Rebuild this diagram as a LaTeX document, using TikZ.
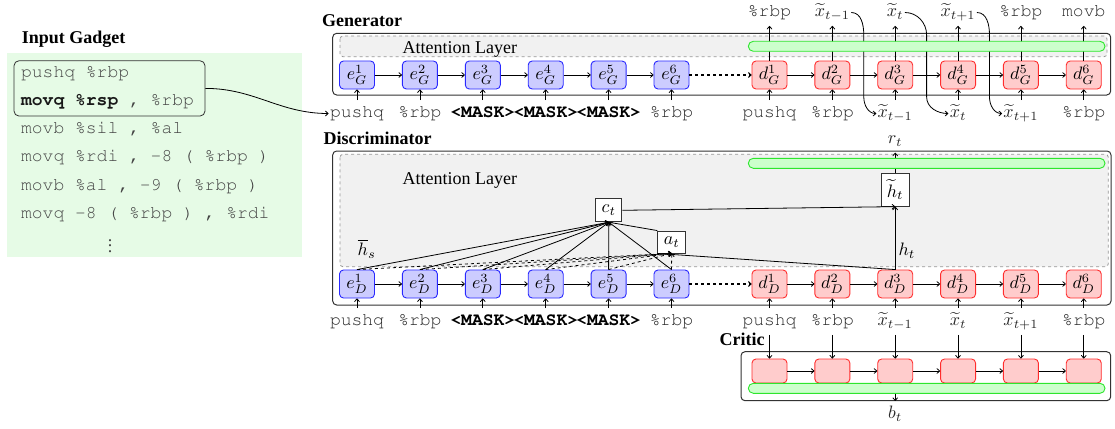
\documentclass[tikz,border=0pt]{standalone}
\usepackage{graphicx}
\usepackage[T1]{fontenc}
\usepackage[no-math]{fontspec}
\setmainfont{Liberation Serif}
\setmonofont{Liberation Mono}
\usetikzlibrary{calc,arrows.meta}

% math set at 10pt and enlarged to match the 18pt text
\newcommand\mth[1]{\scalebox{1.8}{\fontsize{10}{12}\selectfont$#1$}}
% Courier for the assembly tokens
\newcommand\crfont{\fontencoding{T1}\fontfamily{pcr}\fontsize{18}{21.6}\selectfont}

\definecolor{encfill}{RGB}{204,204,255}
\definecolor{encline}{RGB}{40,40,255}
\definecolor{decfill}{RGB}{255,204,204}
\definecolor{decline}{RGB}{255,45,45}
\definecolor{barfill}{RGB}{204,255,204}
\definecolor{barline}{RGB}{45,230,45}
\definecolor{attfill}{RGB}{241,241,241}
\definecolor{attline}{RGB}{150,150,150}
\definecolor{panelfill}{RGB}{230,251,230}
\definecolor{codegray}{RGB}{68,68,68}
\definecolor{tokgray}{RGB}{40,40,40}

\tikzset{
  enc/.style={draw=encline, fill=encfill, rounded corners=4pt, minimum width=35pt,
    minimum height=28pt, inner sep=0pt, line width=0.9pt},
  dec/.style={enc, draw=decline, fill=decfill},
  crit/.style={dec, minimum height=24pt},
  tok/.style={anchor=base, inner xsep=1pt, inner ysep=5pt, text height=12pt,
    text depth=4pt, text=tokgray, font=\crfont},
  mask/.style={tok, inner xsep=0pt, text=black, font=\crfont\bfseries},
  code/.style={anchor=base west, inner sep=0pt, text=codegray, font=\crfont},
  title/.style={anchor=base west, inner sep=0pt,
    font=\fontsize{18}{21.6}\selectfont\bfseries},
  attlabel/.style={anchor=base west, inner sep=0pt},
  gbar/.style={draw=barline, fill=barfill, rounded corners=5pt, line width=0.9pt,
    inner sep=0pt, minimum height=10pt, minimum width=356.7pt},
  att/.style={draw=attline, fill=attfill, dashed, rounded corners=3pt, line width=0.8pt},
  frame/.style={draw=black!80, rounded corners=4pt, line width=1pt},
  vec/.style={draw=black!80, fill=white, inner sep=0pt, line width=0.9pt},
}

\begin{document}
\begin{tikzpicture}[x=1pt, y=-1pt, line width=0.8pt,
  >={To[length=3.5pt,width=5.5pt]},
  every node/.append style={font=\fontsize{18}{21.6}\selectfont}]
\useasboundingbox (0,0) rectangle (1115,428);

% ---------------- input gadget ----------------
\fill[panelfill] (6.7,53.3) rectangle (301.7,256.7);
\node[title] (gadget) at (21.5,43.3) {Input Gadget};
\node[code] (c1) at (20.7,77.3) {pushq \%rbp};
\node[code] (c2) at (20.7,105.5) {\textcolor{black!90}{\bfseries movq \%rsp} , \%rbp};
\node[code] (c3) at (20.7,133.7) {movb \%sil , \%al};
\node[code] (c4) at (20.7,161.9) {movq \%rdi , -8 ( \%rbp )};
\node[code] (c5) at (20.7,190.1) {movb \%al , -9 ( \%rbp )};
\node[code] (c6) at (20.7,218.3) {movq -8 ( \%rbp ) , \%rdi};
\node[inner sep=0pt, text=codegray] (c7) at (110,246)
  {\vbox{\baselineskip=5.6pt\lineskiplimit=0pt\hbox{.}\hbox{.}\hbox{.}}};
\node[draw=black!80, rounded corners=5pt, minimum width=191pt, minimum height=55.3pt,
  inner sep=0pt, line width=0.8pt] (sel) at (109.5,88.4) {};

% ---------------- generator ----------------
\node[title] (gtitle) at (321.7,26.7) {Generator};
\draw[frame] (332.7,33.3) rectangle (1110.7,95);
\draw[att] (340,36) rectangle (1107,56.7);
\node[attlabel] (gatt) at (402.3,54) {Attention Layer};

\foreach \i/\x in {1/357,2/419.9,3/482.8,4/545.7,5/608.6,6/671.5}
  \node[enc] (eG\i) at (\x,75) {\mth{e_G^{\i}}};
\foreach \i/\x in {1/769.5,2/832.35,3/895.2,4/958.05,5/1020.9,6/1083.75}
  \node[dec] (dG\i) at (\x,75) {\mth{d_G^{\i}}};

% generator inputs
\foreach \i/\x/\lab in {1/357/pushq,2/419.9/\%rbp,6/671.5/\%rbp}
  \node[tok] (gin\i) at (\x,117.5) {\lab};
\foreach \i/\x in {3/482.8,4/545.7,5/608.6}
  \node[mask] (gin\i) at (\x,117.5) {<MASK>};
\foreach \i/\x/\lab in {1/769.5/pushq,2/832.35/\%rbp,3/895.2/\mth{\widetilde{x}_{t-1}},
    4/958.05/\mth{\widetilde{x}_{t}},5/1020.9/\mth{\widetilde{x}_{t+1}},6/1083.75/\%rbp}
  \node[tok] (gdin\i) at (\x,117.5) {\lab};
% generator outputs
\foreach \i/\x/\lab in {1/769.5/\%rbp,2/832.35/\mth{\widetilde{x}_{t-1}},3/895.2/\mth{\widetilde{x}_{t}},
    4/958.05/\mth{\widetilde{x}_{t+1}},5/1020.9/\%rbp,6/1083.75/movb}
  \node[tok] (gout\i) at (\x,16.5) {\lab};

\foreach \i in {1,...,6} {
  \draw[->] (gin\i.north) -- (eG\i.south);
  \draw[->] (gdin\i.north) -- (dG\i.south);
  \draw[->] (dG\i.north) -- (gout\i.south);
}
\foreach \i in {1,...,5} {
  \pgfmathtruncatemacro\j{\i+1}
  \draw[->] (eG\i) -- (eG\j);
  \draw[->] (dG\i) -- (dG\j);
}
\draw[->, dashed, line width=1.1pt] (eG6) -- (dG1);

% sampled tokens fed back as next inputs
\foreach \a/\b/\c in {2/3/3,3/4/4,4/5/5}
  \draw[->] (gout\a.east) to[out=0,in=90] ($(dG\a)!.5!(dG\b)+(0,-40)$)
    -- ($(dG\a)!.5!(dG\b)+(0,22)$) to[out=-90,in=180] (gdin\c.west);

\node[gbar] (gbarG) at (926.65,46.3) {};

% gadget selection feeds the generator
\draw[->] (sel.east) to[out=0,in=180] (gin1.west);

% ---------------- discriminator ----------------
\node[title] (dtitle) at (323.3,144) {Discriminator};
\draw[frame] (332.7,151) rectangle (1111,305);
\draw[att] (340,154.3) rectangle (1108.3,266.7);
\node[attlabel] (datt) at (402.3,184) {Attention Layer};

\foreach \i/\x in {1/357,2/419.9,3/482.8,4/545.7,5/608.6,6/671.5}
  \node[enc] (eD\i) at (\x,284) {\mth{e_D^{\i}}};
\foreach \i/\x in {1/769.5,2/832.35,3/895.2,4/958.05,5/1020.9,6/1083.75}
  \node[dec] (dD\i) at (\x,284) {\mth{d_D^{\i}}};

\foreach \i/\x/\lab in {1/357/pushq,2/419.9/\%rbp,6/671.5/\%rbp}
  \node[tok] (din\i) at (\x,325.5) {\lab};
\foreach \i/\x in {3/482.8,4/545.7,5/608.6}
  \node[mask] (din\i) at (\x,325.5) {<MASK>};
\foreach \i/\x/\lab in {1/769.5/pushq,2/832.35/\%rbp,3/895.2/\mth{\widetilde{x}_{t-1}},
    4/958.05/\mth{\widetilde{x}_{t}},5/1020.9/\mth{\widetilde{x}_{t+1}},6/1083.75/\%rbp}
  \node[tok] (ddin\i) at (\x,325.5) {\lab};

\node[vec, minimum width=26pt, minimum height=23pt] (ct) at (608.8,210.3) {\mth{c_t}};
\node[vec, minimum width=28pt, minimum height=22pt] (at) at (671.7,242) {\mth{a_t}};
\node[vec, minimum width=28pt, minimum height=33pt] (htil) at (895.2,189.7) {\mth{\widetilde{h}_t}};
\node[inner sep=0pt] (hs) at (366.7,249) {\mth{\overline{h}_s}};
\node[tok] (rt) at (895.2,143.3) {\mth{r_t}};

\foreach \i in {1,...,6} {
  \draw[->] (din\i.north) -- (eD\i.south);
  \draw[->] (ddin\i.north) -- (dD\i.south);
  \draw[->] (eD\i.north) -- (ct.south);
  \draw[->, dashed] (eD\i.north) -- (at.south);
}
\foreach \i in {1,...,5} {
  \pgfmathtruncatemacro\j{\i+1}
  \draw[->] (eD\i) -- (eD\j);
  \draw[->] (dD\i) -- (dD\j);
}
\draw[->, dashed, line width=1.1pt] (eD6) -- (dD1);
\draw (ct.south) -- (at.north west);
\draw (at.south west) -- (dD3.north);
\draw[->] (ct.east) -- (htil.south);
\draw[->] (dD3.north) -- node[pos=.3, right, inner sep=3pt] (ht) {\mth{h_t}} (htil.south);
\draw[->] (htil.north) -- (rt.south);

\node[gbar] (gbarD) at (926.65,163.3) {};

% ---------------- critic ----------------
\node[title] (ctitle) at (719.3,345) {Critic};
\draw[frame] (741,351.7) rectangle (1110.7,400.7);
\foreach \i/\x in {1/769.5,2/832.35,3/895.2,4/958.05,5/1020.9,6/1083.75}
  \node[crit] (cr\i) at (\x,371) {};
\node[gbar] (gbarC) at (926.65,388.3) {};
\node[tok] (bt) at (895.2,418.3) {\mth{b_t}};

\foreach \i in {1,...,6}
  \draw[->] (ddin\i.south) -- (cr\i.north);
\foreach \i in {1,...,5} {
  \pgfmathtruncatemacro\j{\i+1}
  \draw[->] (cr\i) -- (cr\j);
}
\draw[->] (gbarC.south -| cr3.south) -- (bt.north);
\end{tikzpicture}
\end{document}
